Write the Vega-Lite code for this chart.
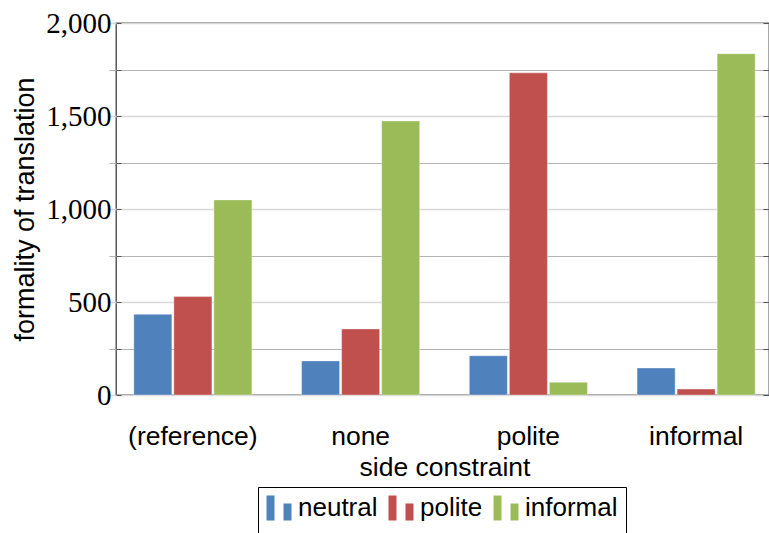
{
  "$schema": "https://vega.github.io/schema/vega-lite/v6.json",
  "autosize": "none",
  "width": 653,
  "height": 372,
  "padding": {"left": 116, "top": 23, "right": 0, "bottom": 138},
  "background": "white",
  "config": {
    "view": {"stroke": "#404040", "strokeWidth": 1.3},
    "axis": {"labelColor": "black", "titleColor": "black", "titleFontWeight": "normal"}
  },
  "data": {
    "values": [
      {"constraint": "(reference)", "series": "neutral", "count": 434},
      {"constraint": "(reference)", "series": "polite", "count": 529},
      {"constraint": "(reference)", "series": "informal", "count": 1049},
      {"constraint": "none", "series": "neutral", "count": 183},
      {"constraint": "none", "series": "polite", "count": 355},
      {"constraint": "none", "series": "informal", "count": 1473},
      {"constraint": "polite", "series": "neutral", "count": 211},
      {"constraint": "polite", "series": "polite", "count": 1732},
      {"constraint": "polite", "series": "informal", "count": 68},
      {"constraint": "informal", "series": "neutral", "count": 145},
      {"constraint": "informal", "series": "polite", "count": 32},
      {"constraint": "informal", "series": "informal", "count": 1835}
    ]
  },
  "layer": [
    {
      "mark": {"type": "bar", "stroke": "white", "strokeWidth": 0.6, "strokeOpacity": 0.6},
      "encoding": {
        "x": {
          "field": "constraint",
          "type": "nominal",
          "sort": ["(reference)", "none", "polite", "informal"],
          "scale": {"range": [-7, 664], "paddingInner": 0, "paddingOuter": 0},
          "axis": {
            "title": "side constraint",
            "labelAngle": 0,
            "domain": false,
            "ticks": false,
            "labelFont": "Liberation Sans",
            "labelFontSize": 26.5,
            "labelPadding": 28,
            "titleFont": "Liberation Sans",
            "titleFontSize": 26.5,
            "titlePadding": 5
          }
        },
        "xOffset": {
          "field": "series",
          "sort": ["neutral", "polite", "informal"],
          "scale": {"paddingInner": 0.05, "paddingOuter": 0.62}
        },
        "y": {
          "field": "count",
          "type": "quantitative",
          "scale": {"domain": [0, 2000], "nice": false},
          "axis": {
            "title": "formality of translation",
            "values": [0, 250, 500, 750, 1000, 1250, 1500, 1750, 2000],
            "labelExpr": "datum.value % 500 === 0 ? format(datum.value, ',') : ''",
            "domain": false,
            "grid": true,
            "gridColor": {"condition": {"test": "datum.value % 500 === 0", "value": "#d8d8d8"}, "value": "#b4b4b4"},
            "gridWidth": {"condition": {"test": "datum.value % 500 === 0", "value": 1.6}, "value": 1},
            "ticks": true,
            "tickSize": -5,
            "tickColor": "#555555",
            "labelFont": "Liberation Serif",
            "labelFontSize": 29,
            "labelPadding": 10,
            "titleFont": "Liberation Sans",
            "titleFontSize": 27,
            "titlePadding": 6
          }
        },
        "color": {
          "field": "series",
          "type": "nominal",
          "scale": {
            "domain": ["neutral", "polite", "informal"],
            "range": ["#4F81BD", "#C0504D", "#9BBB59"]
          },
          "legend": {
            "title": " ",
            "titleOrient": "bottom",
            "titleFontSize": 10,
            "titlePadding": 0,
            "orient": "none",
            "legendX": 142,
            "legendY": 464,
            "direction": "horizontal",
            "strokeColor": "black",
            "fillColor": "white",
            "padding": 8,
            "symbolType": "M-1,-1H-0.36V1H-1Z M0.36,-0.36H1V1H0.36Z",
            "symbolSize": 625,
            "symbolStrokeWidth": 0,
            "symbolOpacity": 1,
            "labelFont": "Liberation Sans",
            "labelFontSize": 26,
            "labelColor": "black",
            "labelOffset": 6,
            "columnPadding": 10
          }
        }
      }
    },
    {
      "mark": {"type": "rule", "opacity": 0},
      "encoding": {
        "y": {
          "datum": 0,
          "type": "quantitative",
          "axis": {
            "orient": "right",
            "title": null,
            "values": [0, 250, 500, 750, 1000, 1250, 1500, 1750, 2000],
            "labels": false,
            "grid": false,
            "domain": false,
            "ticks": true,
            "tickSize": -6,
            "tickColor": "#555555"
          }
        }
      }
    }
  ],
  "resolve": {"axis": {"y": "independent"}}
}
